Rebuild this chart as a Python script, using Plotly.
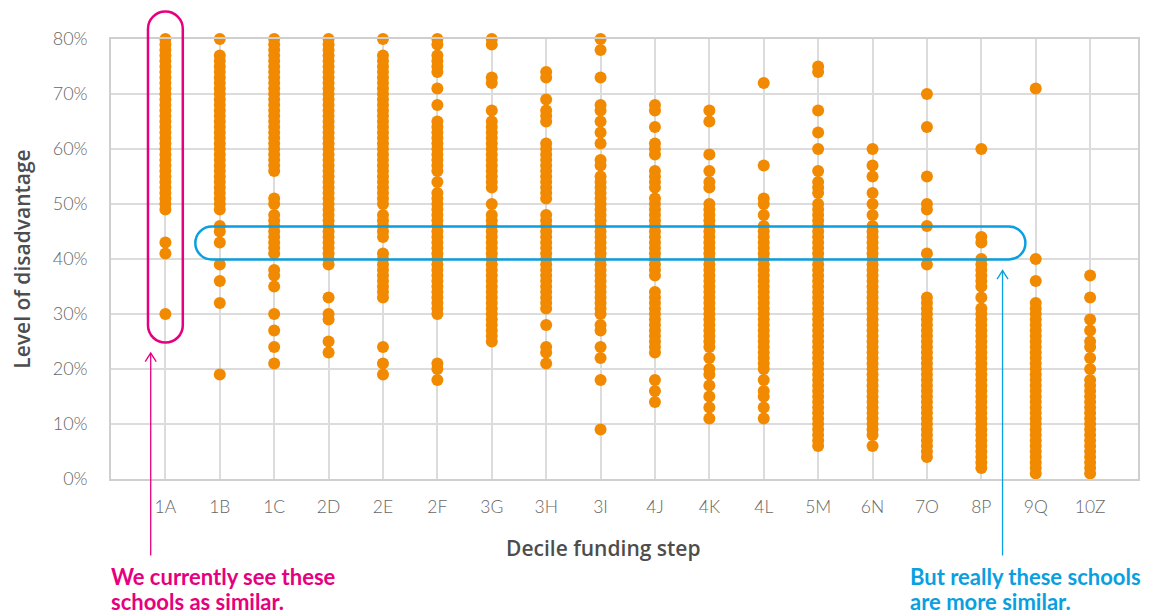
import plotly.graph_objects as go

categories = ["1A", "1B", "1C", "2D", "2E", "2F", "3G", "3H", "3I", "4J",
              "4K", "4L", "5M", "6N", "7O", "8P", "9Q", "10Z"]

v_1A = [80, 79, 78, 77, 76, 75, 74, 73, 72, 71, 70, 69, 68, 67, 66, 65, 64, 63, 62, 61,
        60, 59, 58, 57, 56, 55, 54, 53, 52, 51, 50, 49, 43, 41, 30]
v_1B = [80, 77, 76, 75, 74, 73, 72, 71, 70, 69, 68, 67, 66, 65, 64, 63, 62, 61, 60, 59,
        58, 57, 56, 55, 54, 53, 52, 51, 50, 49, 46, 45, 43, 39, 36, 32, 19]
v_1C = [80, 79, 78, 77, 76, 75, 74, 73, 72, 71, 70, 69, 68, 67, 66, 65, 64, 63, 62, 61,
        60, 59, 58, 57, 56, 51, 50, 48, 47, 46, 45, 44, 43, 42, 41, 38, 37, 35, 30, 27, 24, 21]
v_2D = [80, 79, 78, 77, 76, 75, 74, 73, 72, 71, 70, 69, 68, 67, 66, 65, 64, 63, 62, 61,
        60, 59, 58, 57, 56, 55, 54, 53, 52, 51, 50, 49, 48, 47, 46, 45, 44, 43, 42, 41,
        40, 39, 33, 30, 29, 25, 23]
v_2E = [80, 77, 76, 75, 74, 73, 72, 71, 70, 69, 68, 67, 66, 65, 64, 63, 62, 61, 60, 59,
        58, 57, 56, 55, 54, 53, 52, 51, 50, 48, 47, 46, 45, 44, 41, 40, 39, 38, 37, 36,
        35, 34, 33, 24, 21, 19]
v_2F = [80, 79, 77, 76, 75, 74, 71, 68, 65, 64, 63, 62, 61, 60, 59, 58, 57, 56, 54, 52,
        51, 50, 49, 48, 47, 46, 45, 44, 43, 42, 41, 40, 39, 38, 37, 36, 35, 34, 33, 32,
        31, 30, 21, 20, 18]
v_3G = [80, 79, 73, 72, 67, 65, 64, 63, 62, 61, 60, 59, 58, 57, 56, 55, 54, 53, 50, 48,
        47, 46, 45, 44, 43, 42, 41, 40, 39, 38, 37, 36, 35, 34, 33, 32, 31, 30, 29, 28,
        27, 26, 25]
v_3H = [74, 73, 69, 67, 66, 65, 61, 60, 59, 58, 57, 56, 55, 54, 53, 52, 51, 48, 47, 46,
        45, 44, 43, 42, 41, 40, 39, 38, 37, 36, 35, 34, 33, 32, 31, 28, 24, 23, 21]
v_3I = [80, 78, 73, 68, 67, 65, 63, 61, 58, 57, 55, 54, 53, 52, 51, 50, 49, 48, 47, 46,
        45, 44, 43, 42, 41, 40, 39, 38, 37, 36, 35, 34, 33, 32, 31, 30, 28, 27, 24, 22,
        18, 9]
v_4J = [68, 67, 64, 61, 60, 59, 56, 55, 54, 53, 51, 50, 49, 48, 47, 46, 45, 44, 43, 42,
        41, 40, 39, 38, 37, 34, 33, 32, 31, 30, 29, 28, 27, 26, 25, 24, 23, 18, 16, 14]
v_4K = [67, 65, 59, 56, 54, 53, 50, 49, 48, 47, 46, 45, 44, 43, 42, 41, 40, 39, 38, 37,
        36, 35, 34, 33, 32, 31, 30, 29, 28, 27, 26, 25, 24, 22, 20, 19, 17, 15, 13, 11]
v_4L = [72, 57, 51, 50, 48, 46, 45, 44, 43, 42, 41, 40, 39, 38, 37, 36, 35, 34, 33, 32,
        31, 30, 29, 28, 27, 26, 25, 24, 23, 22, 21, 20, 18, 16, 15, 13, 11]
v_5M = [75, 74, 67, 63, 60, 56, 54, 53, 52, 50, 49, 48, 47, 46, 45, 44, 43, 42, 41, 40,
        39, 38, 37, 36, 35, 34, 33, 32, 31, 30, 29, 28, 27, 26, 25, 24, 23, 22, 21, 20,
        19, 18, 17, 16, 15, 14, 13, 12, 11, 10, 9, 8, 7, 6]
v_6N = [60, 57, 55, 52, 50, 48, 46, 45, 44, 43, 42, 41, 40, 39, 38, 37, 36, 35, 34, 33,
        32, 31, 30, 29, 28, 27, 26, 25, 24, 23, 22, 21, 20, 19, 18, 17, 16, 15, 14, 13,
        12, 11, 10, 9, 8, 6]
v_7O = [70, 64, 55, 50, 49, 46, 41, 39, 33, 32, 31, 30, 29, 28, 27, 26, 25, 24, 23, 22,
        21, 20, 19, 18, 17, 16, 15, 14, 13, 12, 11, 10, 9, 8, 7, 6, 5, 4]
v_8P = [60, 44, 43, 40, 39, 38, 37, 36, 35, 33, 31, 30, 29, 28, 27, 26, 25, 24, 23, 22,
        21, 20, 19, 18, 17, 16, 15, 14, 13, 12, 11, 10, 9, 8, 7, 6, 5, 4, 3, 2]
v_9Q = [71, 40, 36, 32, 31, 30, 29, 28, 27, 26, 25, 24, 23, 22, 21, 20, 19, 18, 17, 16,
        15, 14, 13, 12, 11, 10, 9, 8, 7, 6, 5, 4, 3, 2, 1]
v_10Z = [37, 33, 29, 27, 25, 24, 22, 20, 18, 17, 16, 15, 14, 13, 12, 11, 10, 9, 8, 7,
         6, 5, 4, 3, 2, 1]

columns = [v_1A, v_1B, v_1C, v_2D, v_2E, v_2F, v_3G, v_3H, v_3I, v_4J,
           v_4K, v_4L, v_5M, v_6N, v_7O, v_8P, v_9Q, v_10Z]

y_ticks = [0, 10, 20, 30, 40, 50, 60, 70, 80]
y_tick_labels = ["0%", "10%", "20%", "30%", "40%", "50%", "60%", "70%", "80%"]

pink_lines = ["We currently see these", "schools as similar."]
blue_lines = ["But really these schools", "are more similar."]

# ---- layout geometry ----
W, H = 1155, 614
ML, MR, MT, MB = 111, 17, 39, 135
PW = W - ML - MR
PH = H - MT - MB
XR = [-1.0, 17.88]
YR = [0, 80]
SX = PW / (XR[1] - XR[0])
SY = PH / (YR[1] - YR[0])

ORANGE = "#F18A00"
PINK = "#E6007E"
BLUE = "#0A9FE0"
GRID = "#DCDCDC"


def dxd(x):
    return (x - XR[0]) / (XR[1] - XR[0])


def dyd(y):
    return (y - YR[0]) / (YR[1] - YR[0])


def stadium(x0, x1, y0, y1):
    wpx = (x1 - x0) * SX
    hpx = (y1 - y0) * SY
    r = min(wpx, hpx) / 2.0
    rx, ry = r / SX, r / SY
    k = 0.5523
    pts = [
        ("M", [(x0 + rx, y1)]),
        ("L", [(x1 - rx, y1)]),
        ("C", [(x1 - rx + k * rx, y1), (x1, y1 - ry + k * ry), (x1, y1 - ry)]),
        ("L", [(x1, y0 + ry)]),
        ("C", [(x1, y0 + ry - k * ry), (x1 - rx + k * rx, y0), (x1 - rx, y0)]),
        ("L", [(x0 + rx, y0)]),
        ("C", [(x0 + rx - k * rx, y0), (x0, y0 + ry - k * ry), (x0, y0 + ry)]),
        ("L", [(x0, y1 - ry)]),
        ("C", [(x0, y1 - ry + k * ry), (x0 + rx - k * rx, y1), (x0 + rx, y1)]),
    ]
    s = ""
    for cmd, ps in pts:
        s += cmd + " " + " ".join(f"{dxd(px):.5f},{dyd(py):.5f}" for px, py in ps) + " "
    return s + "Z"


def arrow(x, ytip, ybot, color):
    ax = 5.5 / SX
    ay = 8.5 / SY
    line = f"M {dxd(x):.5f},{dyd(ybot):.5f} L {dxd(x):.5f},{dyd(ytip):.5f}"
    head = (f"M {dxd(x - ax):.5f},{dyd(ytip - ay):.5f} L {dxd(x):.5f},{dyd(ytip):.5f} "
            f"L {dxd(x + ax):.5f},{dyd(ytip - ay):.5f}")
    return [
        dict(type="path", xref="x domain", yref="y domain", path=line,
             line=dict(color=color, width=1.3), layer="above"),
        dict(type="path", xref="x domain", yref="y domain", path=head,
             line=dict(color=color, width=1.3), layer="above"),
    ]


xs, ys = [], []
for i, col in enumerate(columns):
    for v in col:
        xs.append(i)
        ys.append(v)

fig = go.Figure()
fig.add_trace(go.Scatter(
    x=xs, y=ys, mode="markers",
    marker=dict(size=12, color=ORANGE, line=dict(width=0)),
    cliponaxis=False, hoverinfo="skip", showlegend=False,
))

shapes = [
    dict(type="path", xref="x domain", yref="y domain",
         path=stadium(-0.32, 0.32, 24.8, 85.0),
         line=dict(color=PINK, width=2.5), layer="above"),
    dict(type="path", xref="x domain", yref="y domain",
         path=stadium(0.55, 15.81, 39.9, 45.9),
         line=dict(color=BLUE, width=2.5), layer="above"),
]
shapes += arrow(-0.27, 22.9, -13.9, PINK)
shapes += arrow(15.39, 37.9, -13.9, BLUE)


def ppx(px):
    return (px - ML) / PW


def ppy(py):
    return (H - MB - py) / PH


annotations = []
for j, (ytxt) in enumerate([576, 601]):
    annotations.append(dict(
        text=pink_lines[j], xref="paper", yref="paper", x=ppx(109), y=ppy(ytxt),
        xanchor="left", yanchor="middle", showarrow=False,
        font=dict(family="Lato", size=22, color=PINK, weight="bold")))
    annotations.append(dict(
        text=blue_lines[j], xref="paper", yref="paper", x=ppx(908), y=ppy(ytxt),
        xanchor="left", yanchor="middle", showarrow=False,
        font=dict(family="Lato", size=22, color=BLUE, weight="bold")))
annotations.append(dict(
    text="Decile funding step", xref="paper", yref="paper",
    x=ppx(603), y=ppy(548), xanchor="center", yanchor="middle", showarrow=False,
    font=dict(family="Open Sans", size=21, color="#4D4D4D", weight=600)))

fig.update_layout(
    width=W, height=H,
    margin=dict(l=ML, r=MR, t=MT, b=MB, pad=0),
    paper_bgcolor="white", plot_bgcolor="white",
    shapes=shapes, annotations=annotations,
    xaxis=dict(
        range=XR, tickmode="array", tickvals=list(range(len(categories))),
        ticktext=categories, showgrid=True, gridcolor=GRID, gridwidth=1.5,
        zeroline=False, showline=True, mirror=True, linecolor="#CFCFCF", linewidth=1.5,
        ticks="", ticklabelstandoff=11,
        tickfont=dict(family="Lato", size=17.5, color="#666666", weight=300),
    ),
    yaxis=dict(
        range=YR, tickmode="array", tickvals=y_ticks, ticktext=y_tick_labels,
        showgrid=True, gridcolor=GRID, gridwidth=1.5,
        zeroline=False, showline=True, mirror=True, linecolor="#CFCFCF", linewidth=1.5,
        ticks="", ticklabelstandoff=18,
        tickfont=dict(family="Lato", size=18, color="#666666", weight=300),
        title=dict(text="Level of disadvantage", standoff=16,
                   font=dict(family="Open Sans", size=21, color="#4D4D4D", weight=600)),
    ),
)

fig.write_html("out.html", config={"displayModeBar": False},
               post_script="document.body.style.margin='0px';")
